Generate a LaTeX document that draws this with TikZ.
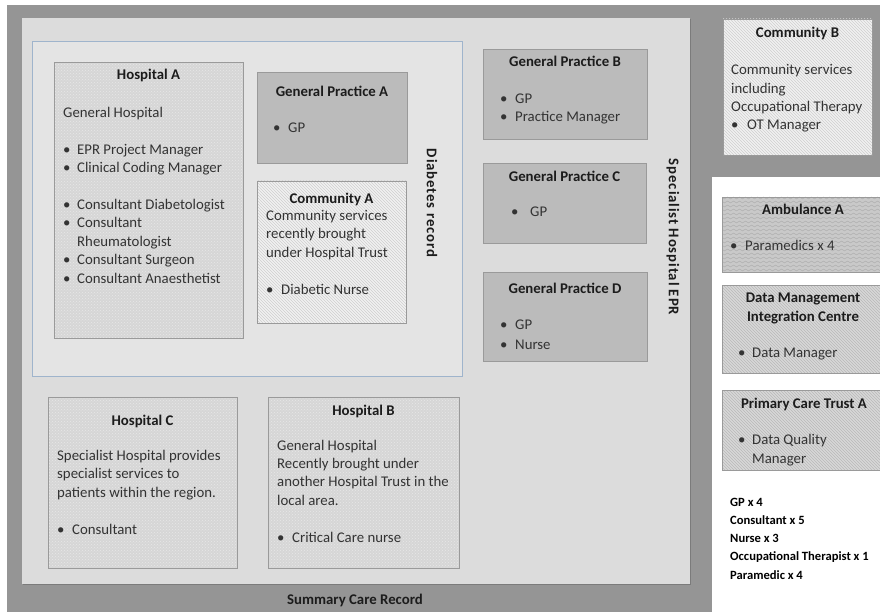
\documentclass[tikz,border=0pt]{standalone}
\usepackage{fontspec}
\setmainfont{Carlito}
\usetikzlibrary{patterns,shadows}
\definecolor{darkbg}{HTML}{959595}
\definecolor{panelbg}{HTML}{DCDCDC}
\definecolor{diabbg}{HTML}{E4E4E4}
\definecolor{diabline}{HTML}{9FB4CC}
\definecolor{boxline}{HTML}{9A9A9A}
\definecolor{gpfill}{HTML}{BBBBBB}
\definecolor{hospfill}{HTML}{D6D6D6}
\definecolor{hospdot}{HTML}{E8E8E8}
\definecolor{comfill}{HTML}{F1F1F1}
\definecolor{comline}{HTML}{CFCFCF}
\definecolor{ambfill}{HTML}{C9C9C9}
\definecolor{ambline}{HTML}{AEAEAE}
\definecolor{dmfill}{HTML}{D8D8D8}
\definecolor{dmline}{HTML}{B9B9B9}
\definecolor{txtc}{HTML}{333333}
\definecolor{ttlc}{HTML}{1C1C1C}
\pgfdeclarepatternformonly{wavyln}{\pgfpoint{-0.5pt}{-0.5pt}}{\pgfpoint{6.5pt}{4.5pt}}{\pgfpoint{6pt}{4pt}}{%
  \pgfsetlinewidth{0.5pt}%
  \pgfpathmoveto{\pgfpoint{0pt}{2pt}}%
  \pgfpathcurveto{\pgfpoint{1pt}{3.2pt}}{\pgfpoint{2pt}{3.2pt}}{\pgfpoint{3pt}{2pt}}%
  \pgfpathcurveto{\pgfpoint{4pt}{0.8pt}}{\pgfpoint{5pt}{0.8pt}}{\pgfpoint{6pt}{2pt}}%
  \pgfusepath{stroke}}
\newcommand\bodysz{\fontsize{14.8}{18.4}\selectfont}
\newcommand\legsz{\fontsize{12.6}{18.1}\selectfont}
\newcommand\bul[1][15]{\makebox[#1pt][l]{\textbullet}}
\tikzset{
  box/.style={anchor=north west, inner sep=0pt, outer sep=0pt,
    drop shadow={shadow xshift=1pt, shadow yshift=-1.3pt, opacity=0.35, fill=black!70}},
  gpbox/.style={box, draw=boxline, line width=0.6pt, fill=gpfill},
  hospbox/.style={box, draw=boxline, line width=0.6pt, preaction={fill=hospfill},
    pattern=crosshatch dots, pattern color=hospdot},
  combox/.style={box, draw=boxline, line width=0.6pt, preaction={fill=comfill},
    pattern=north west lines, pattern color=comline},
  ambbox/.style={box, draw=boxline, line width=0.6pt, preaction={fill=ambfill},
    pattern=wavyln, pattern color=ambline},
  dmbox/.style={box, draw=boxline, line width=0.6pt, preaction={fill=dmfill},
    pattern=north west lines, pattern color=dmline},
  % multi-line texts are anchored at the baseline of their LAST line
  txt/.style={anchor=base west, inner sep=0pt, align=left, font=\bodysz, text=txtc},
  ttl/.style={anchor=base, inner sep=0pt, align=center, font=\bodysz\bfseries, text=ttlc},
  vert/.style={inner sep=0pt, rotate=-90, font=\bodysz\bfseries\addfontfeatures{LetterSpace=6}, text=ttlc},
}
\begin{document}
\begin{tikzpicture}[x=1pt,y=-1pt]
\useasboundingbox (0,0) rectangle (880,612);
\fill[white] (0,0) rectangle (880,612);
% outer areas
\fill[darkbg] (7,5) rectangle (880,612);
\fill[white] (712,177) rectangle (880,612);
% Specialist Hospital EPR panel
\node[box, fill=panelbg, minimum width=668, minimum height=566] (epr) at (22,18) {};
% Diabetes record panel
\node[anchor=north west, inner sep=0pt, draw=diabline, line width=0.9pt, fill=diabbg,
  minimum width=430, minimum height=335] (diab) at (32,41) {};

% boxes
\node[hospbox, minimum width=189, minimum height=276] (hA) at (54,62) {};
\node[gpbox, minimum width=150, minimum height=91] (gpA) at (257,72) {};
\node[combox, minimum width=149, minimum height=142] (comA) at (257,181) {};
\node[gpbox, minimum width=164, minimum height=90] (gpB) at (483,49) {};
\node[gpbox, minimum width=163, minimum height=80] (gpC) at (483,163) {};
\node[gpbox, minimum width=164, minimum height=89] (gpD) at (483,272) {};
\node[hospbox, minimum width=189, minimum height=171] (hC) at (48,397) {};
\node[hospbox, minimum width=191, minimum height=171] (hB) at (268,397) {};
\node[combox, minimum width=149, minimum height=136] (comB) at (723,19) {};
\node[ambbox, minimum width=162, minimum height=75] (amb) at (722,197) {};
\node[dmbox, minimum width=162, minimum height=88] (dm) at (722,285) {};
\node[dmbox, minimum width=162, minimum height=80] (pct) at (722,390) {};

% Hospital A
\node[ttl] (hAt) at (148.5,80) {Hospital A};
\node[txt] (hAb) at (63,283) {General Hospital\\[18.4pt]
\bul[14]EPR Project Manager\\
\bul[14]Clinical Coding Manager\\[18.4pt]
\bul[14]Consultant Diabetologist\\
\bul[14]Consultant\\
\hspace*{14pt}Rheumatologist\\
\bul[14]Consultant Surgeon\\
\bul[14]Consultant Anaesthetist};

% General Practice A
\node[ttl] (gpAt) at (332,97) {General Practice A};
\node[txt] (gpAb) at (273,133) {\bul GP};

% Community A
\node[ttl] (comAt) at (331.5,204) {Community A};
\node[txt] (comAb) at (266,294) {Community services\\recently brought\\under Hospital Trust\\[18.4pt]\bul Diabetic Nurse};

% General Practice B, C, D
\node[ttl] (gpBt) at (565,67) {General Practice B};
\node[txt] (gpBb) at (500,122) {\bul GP\\\bul Practice Manager};
\node[ttl] (gpCt) at (564.5,182) {General Practice C};
\node[txt] (gpCb) at (511,217) {\bul[19]GP};
\node[ttl] (gpDt) at (565,293) {General Practice D};
\node[txt] (gpDb) at (500,349) {\bul GP\\[1.5pt]\bul Nurse};

% Hospital C
\node[ttl] (hCt) at (142.5,425) {Hospital C};
\node[txt] (hCb) at (57,534) {Specialist Hospital provides\\specialist services to\\patients within the region.\\[18.4pt]\bul Consultant};

% Hospital B
\node[ttl] (hBt) at (363.5,415) {Hospital B};
\node[txt] (hBb) at (277,542) {General Hospital\\Recently brought under\\another Hospital Trust in the\\local area.\\[18.4pt]\bul Critical Care nurse};

% Community B
\node[ttl] (comBt) at (797.5,38) {Community B};
\node[txt] (comBb) at (731,130) {Community services\\including\\Occupational Therapy\\\bul[16]OT Manager};

% Ambulance A
\node[ttl] (ambt) at (803,215) {Ambulance A};
\node[txt] (ambb) at (730,251) {\bul Paramedics x 4};

% Data Management Integration Centre
\node[ttl] (dmt) at (803,321) {Data Management\\Integration Centre};
\node[txt] (dmb) at (738,357) {\bul[14]Data Manager};

% Primary Care Trust A
\node[ttl] (pctt) at (804,408) {Primary Care Trust A};
\node[txt] (pctb) at (738,463) {\bul[14]Data Quality\\\hspace*{14pt}Manager};

% legend
\node[anchor=base west, inner sep=0pt, align=left, font=\legsz\bfseries, text=black] (leg) at (730,579)
 {GP x 4\\Consultant x 5\\Nurse x 3\\Occupational Therapist x 1\\Paramedic x 4};

% panel labels
\node[ttl] (scr) at (355,604) {Summary Care Record};
\node[vert] (diabl) at (432,203) {Diabetes record};
\node[vert] (eprl) at (673,237) {Specialist Hospital EPR};
\end{tikzpicture}
\end{document}
